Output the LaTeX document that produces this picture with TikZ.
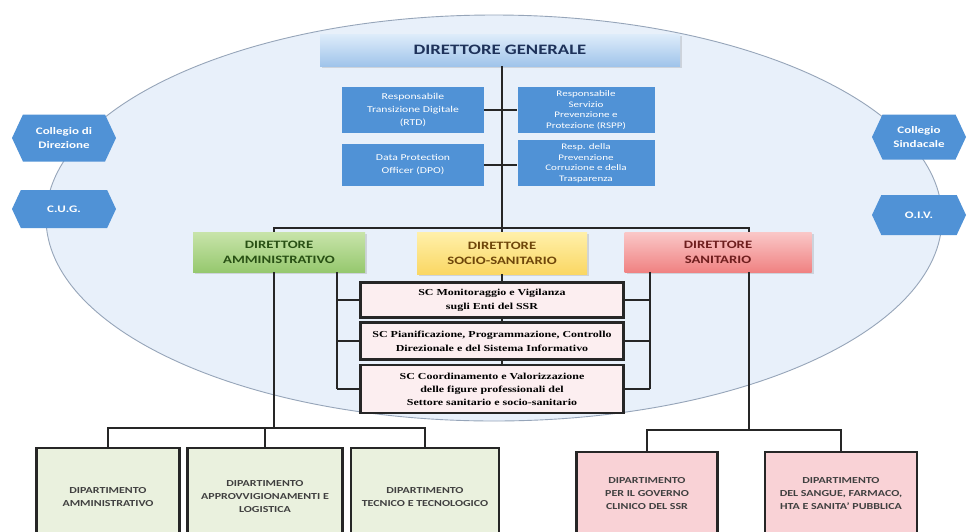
\documentclass[tikz,border=0pt]{standalone}
\usepackage{fontspec}
\setmainfont{Carlito}[FakeStretch=1.3]
\newfontfamily\scfont{Liberation Serif}[FakeStretch=1.3]
\usetikzlibrary{shapes.symbols,shadows}

\definecolor{ovalfill}{RGB}{232,240,250}
\definecolor{ovaldraw}{RGB}{150,165,185}
\definecolor{unitblue}{RGB}{80,146,214}
\definecolor{dgtop}{RGB}{222,236,250}
\definecolor{dgbot}{RGB}{160,196,234}
\definecolor{dgtext}{RGB}{30,50,90}
\definecolor{datop}{RGB}{200,228,170}
\definecolor{dabot}{RGB}{150,200,110}
\definecolor{datext}{RGB}{40,80,20}
\definecolor{dsstop}{RGB}{255,240,170}
\definecolor{dssbot}{RGB}{250,215,100}
\definecolor{dsstext}{RGB}{110,70,10}
\definecolor{dstop}{RGB}{250,200,200}
\definecolor{dsbot}{RGB}{240,130,130}
\definecolor{dstext}{RGB}{110,30,30}
\definecolor{scfill}{RGB}{252,238,240}
\definecolor{greenfill}{RGB}{234,241,222}
\definecolor{pinkfill}{RGB}{249,210,214}

\begin{document}
\begin{tikzpicture}[x=1pt,y=1pt,yscale=-1,
  link/.style={line width=1.3pt, draw=black!85},
  unit/.style={fill=unitblue, text=white, align=center, inner sep=1pt,
    font=\fontsize{9}{13}\selectfont},
  hexa/.style={signal, signal to=west and east, signal pointer angle=130,
    fill=unitblue, text=white, align=center, inner sep=1pt,
    font=\bfseries\fontsize{10}{13.5}\selectfont},
  dirbox/.style={minimum height=40pt, align=center, drop shadow={opacity=0.25},
    font=\bfseries\fontsize{11.3}{15}\selectfont},
  scbox/.style={draw=black!85, line width=2.2pt, fill=scfill, align=center,
    minimum width=263pt, inner sep=1pt,
    font=\scfont\bfseries\fontsize{9.2}{14}\selectfont},
  deptbox/.style={draw=black!85, line width=2.2pt, align=center, text=black!75,
    font=\bfseries\fontsize{9.2}{13}\selectfont}]
\useasboundingbox (0,0) rectangle (971,531);
\clip (0,0) rectangle (971,531);
\fill[white] (0,0) rectangle (971,531);

%Oval
\draw[ovaldraw, fill=ovalfill, line width=0.9pt] (494,218) ellipse [x radius=448, y radius=203];

% Direttore generale and staff units
\node[dirbox, top color=dgtop, bottom color=dgbot, text=dgtext, minimum width=360pt,
  minimum height=32pt, font=\bfseries\fontsize{14.4}{16}\selectfont] (dg) at (500,50) {DIRETTORE GENERALE};
\node[unit, minimum width=142pt, minimum height=46pt] (rtd) at (413,110) {Responsabile\\Transizione Digitale\\(RTD)};
\node[unit, minimum width=142pt, minimum height=42pt] (dpo) at (413,165) {Data Protection\\Officer (DPO)};
\node[unit, minimum width=137pt, minimum height=46pt, font=\fontsize{8.5}{10.5}\selectfont] (rspp) at (586,110) {Responsabile\\Servizio\\Prevenzione e\\Protezione (RSPP)};
\node[unit, minimum width=137pt, minimum height=46pt, font=\fontsize{8.5}{10.5}\selectfont] (rpct) at (586,163) {Resp. della\\Prevenzione\\Corruzione e della\\Trasparenza};

% Collegi
\node[hexa, minimum width=104pt, minimum height=47pt] (cdd) at (64,138) {Collegio di\\Direzione};
\node[hexa, minimum width=104pt, minimum height=38pt] (cug) at (64,209) {C.U.G.};
\node[hexa, minimum width=94pt, minimum height=45pt] (csin) at (919,137) {Collegio\\Sindacale};
\node[hexa, minimum width=94pt, minimum height=40pt] (oiv) at (919,215) {O.I.V.};

% Direttori
\node[dirbox, top color=datop, bottom color=dabot, text=datext, minimum width=172pt] (da) at (279,252) {DIRETTORE\\AMMINISTRATIVO};
\node[dirbox, top color=dsstop, bottom color=dssbot, text=dsstext, minimum width=170pt, minimum height=42pt] (dss) at (502,253) {DIRETTORE\\SOCIO-SANITARIO};
\node[dirbox, top color=dstop, bottom color=dsbot, text=dstext, minimum width=187pt] (ds) at (718,252) {DIRETTORE\\SANITARIO};

% Strutture complesse
\node[scbox, minimum height=35pt] (sc1) at (492,300) {SC Monitoraggio e Vigilanza\\sugli Enti del SSR};
\node[scbox, minimum height=37pt] (sc2) at (492,341) {SC Pianificazione, Programmazione, Controllo\\Direzionale e del Sistema Informativo};
\node[scbox, minimum height=48pt, font=\scfont\bfseries\fontsize{9.2}{13}\selectfont] (sc3) at (492,389) {SC Coordinamento e Valorizzazione\\delle figure professionali del\\Settore sanitario e socio-sanitario};

% Dipartimenti
\node[deptbox, fill=greenfill, minimum width=143pt, minimum height=98pt] (dam) at (108,497) {DIPARTIMENTO\\AMMINISTRATIVO};
\node[deptbox, fill=greenfill, minimum width=155pt, minimum height=98pt] (dal) at (265,497) {DIPARTIMENTO\\APPROVVIGIONAMENTI E\\LOGISTICA};
\node[deptbox, fill=greenfill, minimum width=148pt, minimum height=98pt] (dtt) at (425,497) {DIPARTIMENTO\\TECNICO E TECNOLOGICO};
\node[deptbox, fill=pinkfill, minimum width=141pt, minimum height=84pt] (dgc) at (647,494) {DIPARTIMENTO\\PER IL GOVERNO\\CLINICO DEL SSR};
\node[deptbox, fill=pinkfill, minimum width=152pt, minimum height=84pt] (dsp) at (841,494) {DIPARTIMENTO\\DEL SANGUE, FARMACO,\\HTA E SANITA' PUBBLICA};

% bus coordinates
\coordinate (spine) at (502,228);
\coordinate (dadrop) at (274,228);
\coordinate (dsdrop) at (749,228);
\coordinate (daside) at (337,0);
\coordinate (dsside) at (650,0);
\coordinate (lbus) at (0,428);
\coordinate (rbus) at (0,430);

%Straight Lines
\draw[link] (dg.south -| spine) -- (spine);
\draw[link] (rtd.east) -- (rtd.east -| rspp.west);
\draw[link] (dpo.east) -- (dpo.east -| rpct.west);
\draw[link] (da.north -| dadrop) -- (dadrop) -- (dsdrop) -- (ds.north -| dsdrop);
\draw[link] (spine) -- (dss.north);
\draw[link] (dss.south) -- (sc1.north -| dss.south);
\draw[link] (sc1.south -| dss.south) -- (sc2.north -| dss.south);
\draw[link] (sc2.south -| dss.south) -- (sc3.north -| dss.south);
\draw[link] (da.south -| daside) -- (sc3.west -| daside);
\draw[link] (ds.south -| dsside) -- (sc3.east -| dsside);
\foreach \sc in {sc1,sc2,sc3}{
  \draw[link] (\sc.west -| daside) -- (\sc.west);
  \draw[link] (\sc.east) -- (\sc.east -| dsside);
}
\draw[link] (da.south -| dadrop) -- (lbus -| dadrop);
\draw[link] (dam.north) -- (lbus -| dam.north) -- (lbus -| dtt.north) -- (dtt.north);
\draw[link] (lbus -| dal.north) -- (dal.north);
\draw[link] (ds.south -| dsdrop) -- (rbus -| dsdrop);
\draw[link] (dgc.north) -- (rbus -| dgc.north) -- (rbus -| dsp.north) -- (dsp.north);
\end{tikzpicture}
\end{document}
